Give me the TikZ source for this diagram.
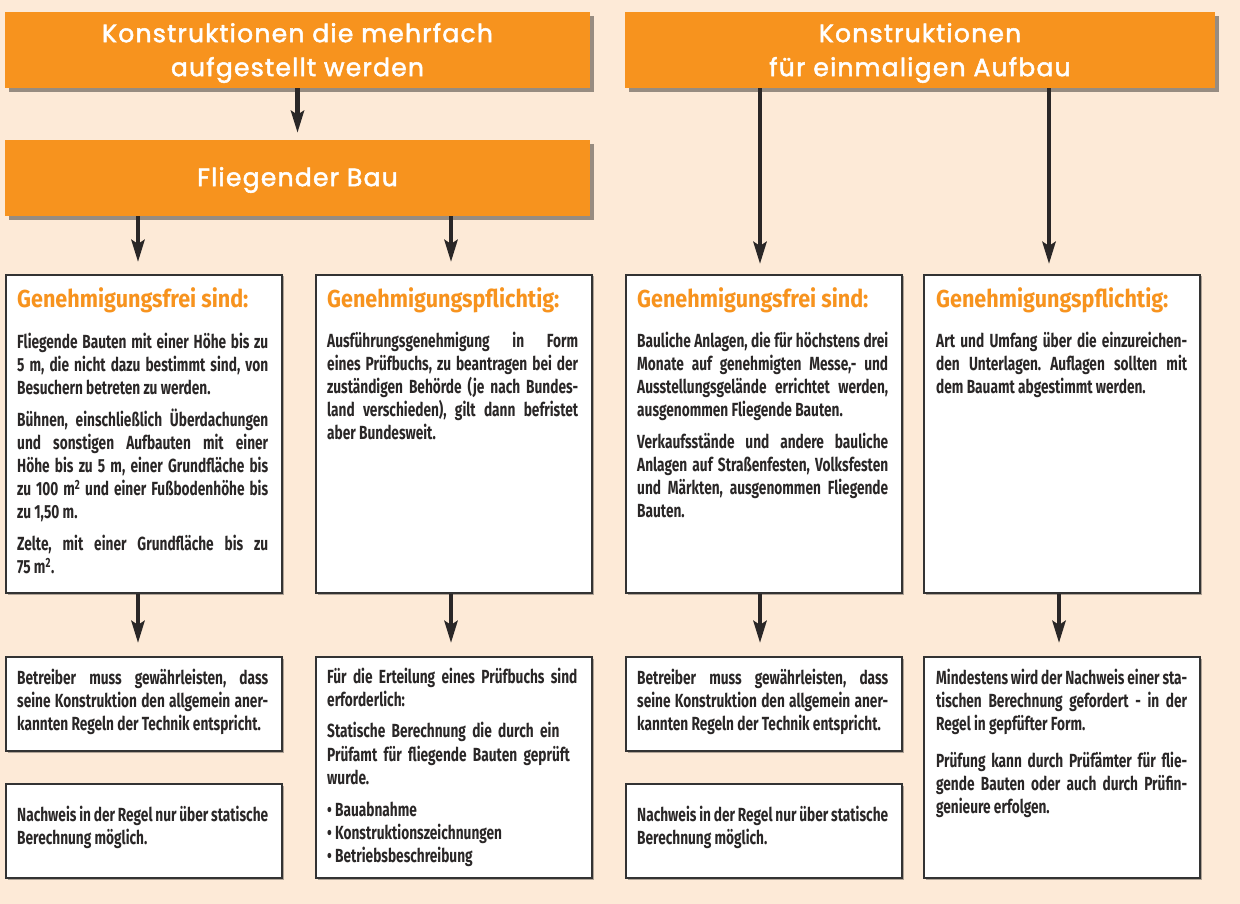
\documentclass[tikz,border=0pt]{standalone}
\usepackage{fontspec}
\usetikzlibrary{arrows.meta,shadows}
\newfontfamily\bodyfont{Fira Sans}[FakeStretch=0.72]
\newfontfamily\ttlfont{Fira Sans}[FakeStretch=0.88]
\newfontfamily\hdrfont{Poppins}[LetterSpace=5,FakeBold=2]
\definecolor{bg}{HTML}{FDEAD7}
\definecolor{org}{HTML}{F7931E}
\definecolor{txt}{HTML}{2A2727}
\definecolor{brd}{HTML}{333333}
\tikzset{
 hdr/.style={rectangle, fill=org, inner sep=0pt,
   drop shadow={shadow xshift=4pt, shadow yshift=-4pt, fill=black, opacity=0.4}},
 hdrtext/.style={text=white, font=\hdrfont\fontsize{25}{34}\selectfont, align=center, inner sep=0pt},
 wbox/.style={rectangle, draw=brd, line width=2pt, fill=white, inner sep=0pt, anchor=north west,
   drop shadow={shadow xshift=1.5pt, shadow yshift=-1.5pt, fill=black, opacity=0.3}},
 ttl/.style={anchor=base west, inner sep=0pt, text=org, font=\ttlfont\bfseries\fontsize{24.5}{28}\selectfont},
 body/.style={anchor=base west, inner sep=0pt, text=txt, text width=251pt, align=justify,
   font=\bodyfont\bfseries\fontsize{19}{23.2}\selectfont},
 arr/.style={draw=txt, line width=4.5pt, -{Stealth[length=22pt,width=13pt,inset=4pt]}},
}
\newcommand{\bodysetup}{\frenchspacing\setlength\parskip{8.5pt}\hyphenpenalty=10000\tolerance=10000\pretolerance=-1}
\begin{document}
\begin{tikzpicture}[x=1pt,y=-1pt]
\useasboundingbox (0,0) rectangle (1240,904);
\fill[bg] (0,0) rectangle (1240,904);
% headers
\node[hdr, minimum width=585pt, minimum height=76pt] (h1) at (297.5,50) {};
\node[hdr, minimum width=590pt, minimum height=76pt] (h2) at (920,50) {};
\node[hdr, minimum width=585pt, minimum height=76pt] (fb) at (297.5,178) {};
\node[hdrtext] (h1t) at (297.5,53) {Konstruktionen die mehrfach\\aufgestellt werden};
\node[hdrtext] (h2t) at (920,53) {Konstruktionen\\für einmaligen Aufbau};
\node[hdrtext] (fbt) at (297.5,180) {Fliegender Bau};
% row 2 boxes
\node[wbox, minimum width=276pt, minimum height=318pt] (b1) at (5,274) {};
\node[wbox, minimum width=276pt, minimum height=318pt] (b2) at (315,274) {};
\node[wbox, minimum width=276pt, minimum height=318pt] (b3) at (625,274) {};
\node[wbox, minimum width=276pt, minimum height=318pt] (b4) at (923,274) {};
% row 3 boxes
\node[wbox, minimum width=276pt, minimum height=94pt] (c1) at (5,656) {};
\node[wbox, minimum width=276pt, minimum height=94pt] (d1) at (5,783) {};
\node[wbox, minimum width=276pt, minimum height=221pt] (c2) at (315,656) {};
\node[wbox, minimum width=276pt, minimum height=94pt] (c3) at (625,656) {};
\node[wbox, minimum width=276pt, minimum height=94pt] (d3) at (625,783) {};
\node[wbox, minimum width=276pt, minimum height=221pt] (c4) at (923,656) {};
% titles
\node[ttl] (t1) at (17,307) {Genehmigungsfrei sind:};
\node[ttl] (t2) at (327,307) {Genehmigungspflichtig:};
\node[ttl] (t3) at (637,307) {Genehmigungsfrei sind:};
\node[ttl] (t4) at (936,307) {Genehmigungspflichtig:};
% row 2 texts
\node[body] (p1) at (17,348) {\bodysetup
Fliegende Bauten mit einer Höhe bis zu\linebreak 5 m, die nicht dazu bestimmt sind, von\linebreak Besuchern betreten zu werden.\par
Bühnen, einschließlich Überdachungen\linebreak und sonstigen Aufbauten mit einer\linebreak Höhe bis zu 5 m, einer Grundfläche bis\linebreak zu 100 m\textsuperscript{2} und einer Fußbodenhöhe bis\linebreak zu 1,50 m.\par
Zelte, mit einer Grundfläche bis zu\linebreak 75 m\textsuperscript{2}.};
\node[body] (p2) at (327,347) {\bodysetup
Ausführungsgenehmigung in Form\linebreak eines Prüfbuchs, zu beantragen bei der\linebreak zuständigen Behörde (je nach Bundes-\linebreak land verschieden), gilt dann befristet\linebreak aber Bundesweit.};
\node[body] (p3) at (637,347) {\bodysetup
Bauliche Anlagen, die für höchstens drei\linebreak Monate auf genehmigten Messe,- und\linebreak Ausstellungsgelände errichtet werden,\linebreak ausgenommen Fliegende Bauten.\par
Verkaufsstände und andere bauliche\linebreak Anlagen auf Straßenfesten, Volksfesten\linebreak und Märkten, ausgenommen Fliegende\linebreak Bauten.};
\node[body] (p4) at (936,347) {\bodysetup
Art und Umfang über die einzureichen-\linebreak den Unterlagen. Auflagen sollten mit\linebreak dem Bauamt abgestimmt werden.};
% row 3 texts
\node[body] (q1) at (17,684) {\bodysetup
Betreiber muss gewährleisten, dass\linebreak seine Konstruktion den allgemein aner-\linebreak kannten Regeln der Technik entspricht.};
\node[body] (r1) at (17,821) {\bodysetup
Nachweis in der Regel nur über statische\linebreak Berechnung möglich.};
\node[body, align=left] (q2) at (327,683) {\bodysetup
Für die Erteilung eines Prüfbuchs sind\\ erforderlich:\par
Statische Berechnung die durch ein\\ Prüfamt für fliegende Bauten geprüft\\ wurde.\par
•\,Bauabnahme\\ •\,Konstruktionszeichnungen\\ •\,Betriebsbeschreibung};
\node[body] (q3) at (637,684) {\bodysetup
Betreiber muss gewährleisten, dass\linebreak seine Konstruktion den allgemein aner-\linebreak kannten Regeln der Technik entspricht.};
\node[body] (r3) at (637,821) {\bodysetup
Nachweis in der Regel nur über statische\linebreak Berechnung möglich.};
\node[body] (q4) at (936,684) {\bodysetup
Mindestens wird der Nachweis einer sta-\linebreak tischen Berechnung gefordert - in der\linebreak Regel in gepfüfter Form.\par\vspace{5pt}
Prüfung kann durch Prüfämter für flie-\linebreak gende Bauten oder auch durch Prüfin-\linebreak genieure erfolgen.};
% arrow x positions
\coordinate (xA) at (138,0);
\coordinate (xB) at (451,0);
\coordinate (xC) at (760,0);
\coordinate (xD) at (1049,0);
\coordinate (xE) at (1059,0);
% arrows
\draw[arr, shorten >=7pt] (h1) -- (fb);
\draw[arr, shorten >=12pt] (fb.south -| xA) -- (b1.north -| xA);
\draw[arr, shorten >=12pt] (fb.south -| xB) -- (b2.north -| xB);
\draw[arr, shorten >=10pt] (h2.south -| xC) -- (b3.north -| xC);
\draw[arr, shorten >=10pt] (h2.south -| xD) -- (b4.north -| xD);
\draw[arr, shorten >=13pt] (b1.south -| xA) -- (c1.north -| xA);
\draw[arr, shorten >=13pt] (b2.south -| xB) -- (c2.north -| xB);
\draw[arr, shorten >=13pt] (b3.south -| xC) -- (c3.north -| xC);
\draw[arr, shorten >=13pt] (b4.south -| xE) -- (c4.north -| xE);
\end{tikzpicture}
\end{document}
